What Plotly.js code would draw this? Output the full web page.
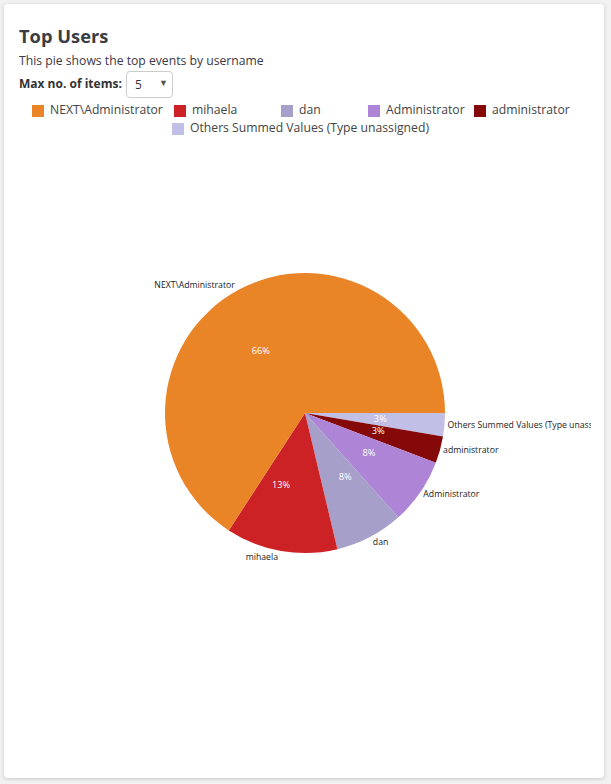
<!DOCTYPE html>
<html><head><meta charset="utf-8">
<script src="https://cdn.plot.ly/plotly-3.0.1.min.js"></script>
<style>
html,body{margin:0;padding:0;background:#f2f2f2;width:611px;height:784px;overflow:hidden;font-family:"Open Sans",sans-serif;}
#card{position:absolute;left:4px;top:4px;width:600px;height:774px;background:#fff;border-radius:4px;box-shadow:0 1px 4px rgba(0,0,0,0.18);}
#title{position:absolute;left:19px;top:23px;font-size:18.3px;font-weight:bold;color:#3a3d42;}
#sub{position:absolute;left:19px;top:52px;font-size:12.2px;color:#3b3745;}
#maxl{position:absolute;left:19px;top:75px;font-size:12px;font-weight:bold;color:#333;}
#sel{position:absolute;left:126px;top:71px;width:45px;height:25px;border:1px solid #ccc;border-radius:4px;background:#fff;font-size:12px;color:#333;}
#sel span.v{position:absolute;left:8px;top:4px;}
#sel span.a{position:absolute;left:32px;top:4px;font-size:9px;color:#555;}
#legend{position:absolute;left:0;top:0;}
.li{position:absolute;font-size:12.2px;color:#444;white-space:nowrap;}
.sw{position:absolute;left:0;top:4px;width:12px;height:12px;}
.lt{position:absolute;left:18px;top:0;}
#plot{position:absolute;left:0;top:0;width:591px;height:784px;}
</style></head>
<body>
<div id="card"></div>
<div id="title">Top Users</div>
<div id="sub">This pie shows the top events by username</div>
<div id="maxl">Max no. of items:</div>
<div id="sel"><span class="v">5</span><span class="a">&#9660;</span></div>
<div id="legend"></div>
<div id="plot"></div>
<script>
const labels = ["NEXT\\Administrator", "mihaela", "dan", "Administrator", "administrator", "Others Summed Values (Type unassigned)"];
const values = [659, 129, 79, 76, 31, 27];
const colors = ["#e98427", "#cc2125", "#a59fc9", "#ae84d6", "#850909", "#c1bfe6"];

// legend placement (styling only)
const legendPos = [[32,101],[174,101],[281,101],[368,101],[474,101],[172,119]];
const leg = document.getElementById('legend');
labels.forEach((l,i)=>{
  const d = document.createElement('div');
  d.className='li';
  d.style.left=legendPos[i][0]+'px';
  d.style.top=legendPos[i][1]+'px';
  const s=document.createElement('div'); s.className='sw'; s.style.background=colors[i];
  const t=document.createElement('div'); t.className='lt'; t.textContent=l;
  d.appendChild(s); d.appendChild(t); leg.appendChild(d);
});

// slices run counterclockwise from 3 o'clock; plotly draws clockwise from the
// rotation point, so feed the series in reverse order
const rl = labels.slice().reverse();
const rv = values.slice().reverse();
const rc = colors.slice().reverse();
const clear = rc.map(()=> 'rgba(0,0,0,0)');
const base = {
  type:'pie', labels:rl, values:rv, sort:false,
  direction:'clockwise', rotation:90, showlegend:false
};
// coloured slices
const slices = Object.assign({}, base, {
  marker:{colors:rc, line:{width:0}},
  textinfo:'none',
  hoverinfo:'label+percent'
});
// name labels outside the rim
const names = Object.assign({}, base, {
  marker:{colors:clear, line:{width:0}},
  texttemplate:'%{label}', textposition:'outside',
  outsidetextfont:{family:'Open Sans', size:8.7, color:'#222222'},
  hoverinfo:'skip'
});
// percentages at about half the radius: outside labels of a smaller, invisible pie.
// Split over two traces (alternating slices) so neighbouring labels are not pushed apart.
function pctTrace(parity){
  return Object.assign({}, base, {
    domain:{x:[0.265,0.735], y:[0.265,0.735]},
    marker:{colors:clear, line:{width:0}},
    texttemplate:'%{percent:.0%}',
    textposition: rl.map((_,i)=> (i % 2 === parity) ? 'outside' : 'none'),
    outsidetextfont:{family:'Open Sans', size:9.3, color:'#ffffff'},
    hoverinfo:'skip'
  });
}
Plotly.newPlot('plot',[slices, names, pctTrace(0), pctTrace(1)],{
  width:591, height:784,
  margin:{l:165, r:146, t:273, b:231, pad:0},
  paper_bgcolor:'rgba(0,0,0,0)', plot_bgcolor:'rgba(0,0,0,0)',
  showlegend:false
},{displayModeBar:false, staticPlot:true});
</script>
</body></html>
